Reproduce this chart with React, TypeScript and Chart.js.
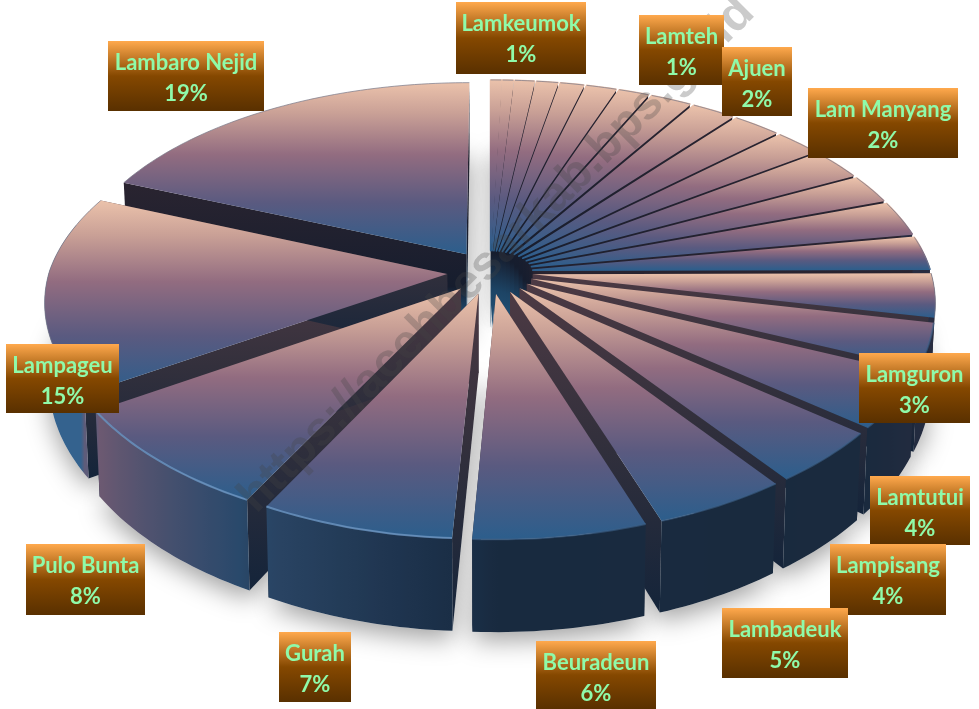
import React, { useEffect, useRef } from "react";
import { Chart, registerables } from "chart.js";

Chart.register(...registerables);

// Slices clockwise from 12 o'clock; unlabelled slices have no name in the picture.
const sliceNames = [
  "Lamkeumok", "", "", "Lamteh", "", "", "", "Ajuen", "", "Lam Manyang", "", "", "", "", "",
  "", "Lamguron", "Lamtutui", "Lampisang", "Lambadeuk", "Beuradeun", "Gurah", "Pulo Bunta", "Lampageu", "Lambaro Nejid",
];
const sliceValues = [
  0.5, 0.5, 0.9, 1.0, 1.1, 1.4, 1.4, 1.9, 2.0, 2.2, 2.1, 2.4, 2.2, 2.7, 2.6,
  3.4, 3.4, 4.2, 4.1, 4.7, 6.1, 6.8, 8.2, 15.4, 18.7,
];
const sliceLabels = [
  "1%", "", "", "1%", "", "", "", "2%", "", "2%", "", "", "", "", "",
  "", "3%", "4%", "4%", "5%", "6%", "7%", "8%", "15%", "19%",
];
const watermark = "https://acehbesarkab.bps.go.id";

// Label boxes: x, y, width, height, keyed by name.
const labelBoxes: Record<string, number[]> = {
  Lamkeumok: [456, 2, 130, 72],
  Lamteh: [639, 15, 85, 70],
  Ajuen: [722, 47, 70, 69],
  "Lam Manyang": [808, 88, 150, 70],
  "Lambaro Nejid": [108, 41, 156, 70],
  Lampageu: [6, 344, 113, 69],
  Lamguron: [859, 353, 111, 70],
  Lamtutui: [870, 476, 100, 69],
  Lampisang: [830, 544, 116, 71],
  Lambadeuk: [722, 608, 126, 70],
  Beuradeun: [536, 641, 120, 68],
  Gurah: [279, 632, 72, 70],
  "Pulo Bunta": [26, 544, 119, 71],
};

// Projection of the tilted disc
const CX = 490, CY = 272, RX = 398, RY = 201, RY_FRONT = 203, K = 0.144, DEPTH = 78, EXPLODE_PX = 43;

const scales = (v: number) => {
  const s = 1 / (1 - K * v);
  const sx = v > 0 ? 1 / (1 - K * 0.88 * v) : s;
  return { s, sx };
};
const proj = (u: number, v: number) => {
  const { s, sx } = scales(v);
  return { x: CX + RX * u * sx, y: CY + (v > 0 ? RY_FRONT : RY) * v * s };
};
const base = (u: number, v: number) => {
  const { s, sx } = scales(v);
  return { x: CX + RX * u * sx * 0.99, y: CY + (v > 0 ? RY_FRONT : RY) * v * s + DEPTH * s };
};

const WALL_STOPS: [number, number[]][] = [
  [0, [30, 40, 60]], [100, [42, 44, 64]], [130, [26, 42, 62]], [180, [24, 42, 63]],
  [183, [26, 46, 70]], [207.5, [42, 69, 101]], [207.8, [39, 72, 107]], [237, [111, 90, 114]],
  [237.4, [52, 98, 142]], [300, [52, 98, 142]], [360, [40, 60, 90]],
];
const wallColor = (deg: number) => {
  for (let i = 1; i < WALL_STOPS.length; i++) {
    const [a, ca] = WALL_STOPS[i - 1];
    const [b, cb] = WALL_STOPS[i];
    if (deg <= b) {
      const t = (deg - a) / (b - a);
      return `rgb(${ca.map((c, j) => Math.round(c + (cb[j] - c) * t)).join(",")})`;
    }
  }
  return "rgb(40,60,90)";
};

type Pt = { x: number; y: number };
const fillPoly = (ctx: CanvasRenderingContext2D, pts: Pt[], style: any) => {
  ctx.beginPath();
  pts.forEach((p, i) => (i ? ctx.lineTo(p.x, p.y) : ctx.moveTo(p.x, p.y)));
  ctx.closePath();
  ctx.fillStyle = style;
  ctx.fill();
};

const pie3d = {
  id: "pie3d",
  beforeDatasetDraw(chart: any) {
    const ctx: CanvasRenderingContext2D = chart.ctx;
    const arcs = chart.getDatasetMeta(0).data;
    const slices = arcs.map((arc: any) => {
      const a0 = arc.startAngle + Math.PI / 2;
      const a1 = arc.endAngle + Math.PI / 2;
      const mid = (a0 + a1) / 2;
      const e = (arc.options.offset || 0) / RX;
      const ou = e * Math.sin(mid), ov = -e * Math.cos(mid);
      const steps = Math.max(2, Math.ceil((a1 - a0) / 0.02));
      const rim: { u: number; v: number; a: number }[] = [];
      for (let i = 0; i <= steps; i++) {
        const a = a0 + ((a1 - a0) * i) / steps;
        rim.push({ u: ou + Math.sin(a), v: ov - Math.cos(a), a });
      }
      return { a0, a1, mid, ou, ov, rim };
    });

    ctx.save();
    // soft shadow under the whole pie
    ctx.save();
    ctx.shadowColor = "rgba(0,0,0,0.38)";
    ctx.shadowBlur = 26;
    ctx.shadowOffsetY = 8;
    slices.forEach((s: any) => {
      fillPoly(ctx, [base(s.ou, s.ov), ...s.rim.map((r: any) => base(r.u, r.v))], "#e4e4e4");
    });
    ctx.restore();

    const order = [...slices].sort((p: any, q: any) => -Math.cos(p.mid) - -Math.cos(q.mid));
    order.forEach((s: any) => {
      const back = -Math.cos(s.mid) < 0.05;
      const tipT = proj(s.ou, s.ov);
      const tipB = base(s.ou, s.ov);
      // radial walls
      [s.rim[0], s.rim[s.rim.length - 1]].forEach((r: any) => {
        const rt = proj(r.u, r.v), rb = base(r.u, r.v);
        const minY = Math.min(tipT.y, rt.y), maxY = Math.max(tipB.y, rb.y);
        const g = ctx.createLinearGradient(0, minY, 0, maxY);
        if (back) {
          g.addColorStop(0, "#2a2430");
          g.addColorStop(0.7, "#161d2e");
          g.addColorStop(0.85, "#1d4465");
          g.addColorStop(1, "#24567c");
        } else {
          g.addColorStop(0, "#4d3a44");
          g.addColorStop(0.45, "#33303c");
          g.addColorStop(1, "#14243a");
        }
        fillPoly(ctx, [tipT, rt, rb, tipB], g);
      });
      // outer wall, only where the rim faces the viewer
      const topRim: Pt[] = s.rim.map((r: any) => proj(r.u, r.v));
      const seen = s.rim.filter((r: any) => {
        const deg = (r.a * 180) / Math.PI;
        return deg > 75 && deg < 285;
      });
      if (seen.length > 1) {
        const wt: Pt[] = seen.map((r: any) => proj(r.u, r.v));
        const wb: Pt[] = seen.map((r: any) => base(r.u, r.v));
        const xs = wt.map((p) => p.x);
        const minX = Math.min(...xs), maxX = Math.max(...xs);
        const wg = ctx.createLinearGradient(minX, 0, Math.max(maxX, minX + 1), 0);
        seen.forEach((r: any, i: number) => {
          const t = (wt[i].x - minX) / Math.max(maxX - minX, 1);
          wg.addColorStop(Math.min(1, Math.max(0, t)), wallColor((r.a * 180) / Math.PI - 1e-6));
        });
        fillPoly(ctx, [...wt, ...[...wb].reverse()], wg);
      }

      // top face
      const pts: Pt[] = [tipT, ...topRim];
      const ys = pts.map((p) => p.y);
      const g = ctx.createLinearGradient(0, Math.min(...ys), 0, Math.max(...ys));
      g.addColorStop(0, "#ebc2ab");
      g.addColorStop(0.18, "#c9a096");
      g.addColorStop(0.42, "#926c80");
      g.addColorStop(0.7, "#5a5a80");
      g.addColorStop(1, "#2c5e8c");
      fillPoly(ctx, pts, g);
      if (back && s.a1 - s.a0 < 0.3) {
        // thin slices at the back nearly touch: the face edge closes most of the gap
        ctx.strokeStyle = g;
        ctx.lineWidth = 1.6;
        ctx.lineJoin = "round";
        ctx.stroke();
      }
      // rim edge
      ctx.beginPath();
      topRim.forEach((p, i) => (i ? ctx.lineTo(p.x, p.y) : ctx.moveTo(p.x, p.y)));
      const frontLeft = s.mid > Math.PI;
      const front = -Math.cos(s.mid) > 0.3;
      ctx.strokeStyle = front
        ? frontLeft
          ? "rgba(104,146,190,0.85)"
          : "rgba(60,96,136,0.6)"
        : "rgba(120,120,135,0.7)";
      ctx.lineWidth = front ? 2 : 1;
      ctx.stroke();
    });
    ctx.restore();
    return false;
  },
  afterDatasetsDraw(chart: any) {
    const ctx: CanvasRenderingContext2D = chart.ctx;
    // watermark
    ctx.save();
    ctx.translate(247, 505);
    ctx.rotate(-Math.PI / 4);
    ctx.font = "bold 48px 'Liberation Sans', sans-serif";
    ctx.fillStyle = "rgba(70,70,70,0.28)";
    ctx.textAlign = "left";
    ctx.textBaseline = "middle";
    ctx.fillText(watermark, 0, 0);
    ctx.restore();
    // labels
    ctx.save();
    sliceNames.forEach((name, i) => {
      const box = labelBoxes[name];
      if (!box) return;
      const [x, y, w, h] = box;
      const g = ctx.createLinearGradient(0, y, 0, y + h);
      g.addColorStop(0, "#ffa94d");
      g.addColorStop(0.5, "#854800");
      g.addColorStop(1, "#593000");
      ctx.fillStyle = g;
      ctx.fillRect(x, y, w, h);
      ctx.fillStyle = "#8ffaa9";
      ctx.font = "bold 22px Lato, sans-serif";
      ctx.textAlign = "center";
      ctx.textBaseline = "middle";
      ctx.fillText(name, x + w / 2, y + 22);
      ctx.fillText(sliceLabels[i], x + w / 2, y + 53);
    });
    ctx.restore();
  },
};

export default function App() {
  const ref = useRef<HTMLCanvasElement | null>(null);
  useEffect(() => {
    const chart = new Chart(ref.current as HTMLCanvasElement, {
      type: "pie",
      data: {
        labels: sliceNames,
        datasets: [{ data: sliceValues, offset: EXPLODE_PX, borderWidth: 0 }],
      },
      options: {
        responsive: false,
        animation: false,
        devicePixelRatio: 1,
        plugins: { legend: { display: false }, tooltip: { enabled: false } },
      },
      plugins: [pie3d],
    } as any);
    return () => chart.destroy();
  }, []);
  return (
    <div style={{ position: "fixed", left: 0, top: 0, width: 979, height: 709, background: "#fff" }}>
      <canvas ref={ref} width={979} height={709} style={{ display: "block" }} />
    </div>
  );
}
